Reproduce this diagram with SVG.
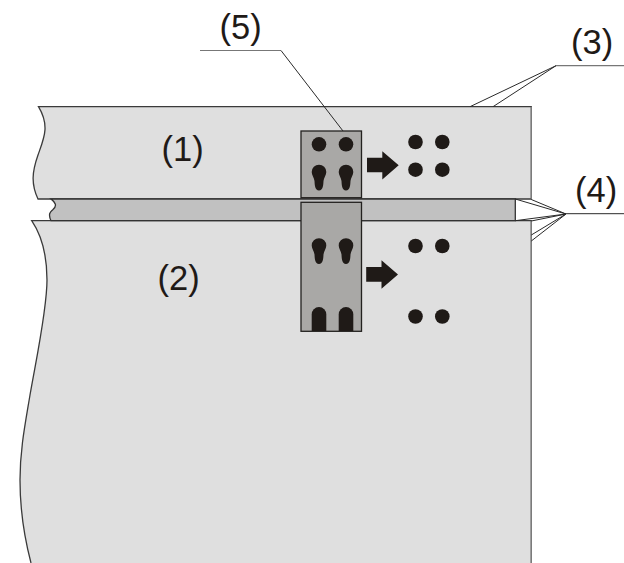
<svg xmlns="http://www.w3.org/2000/svg" width="624" height="563" viewBox="0 0 624 563">
<style>
.sheet{fill:#dfdfdf;stroke:#3a3a3a;stroke-width:1.3}
.edge{fill:none;stroke:#8a8a8a;stroke-width:1}
.band{fill:#c1c1c1;stroke:#333;stroke-width:1.3}
.plate{fill:#a9a8a6;stroke:#23211f;stroke-width:1.3}
.hole{fill:#1f1a17}
.lead{fill:none;stroke:#2a2a2a;stroke-width:1}
.rule{fill:none;stroke:#777;stroke-width:1.2}
.label{font-family:"Liberation Sans",Arial,sans-serif;font-size:34.500px;fill:#1f1a17}
</style>
<defs>
<circle id="dot" r="7.3" class="hole"/>
<path id="key" class="hole" d="M-7.3 0A7.3 7.3 0 1 1 7.3 0C7.3 3 4.8 6 4.5 9C4.3 13 4 18.500 0 18.500C-4 18.500 -4.300 13 -4.500 9C-4.800 6 -7.300 3 -7.300 0Z"/>
<path id="slot" class="hole" d="M-7.300 24V7.300A7.300 7.300 0 0 1 7.300 7.300V24Z"/>
</defs>
<g id="sheet-1">
<path class="sheet" d="M38.500 106.700H531.300V199H38C31 184 32 172 38 155C44 138 50 126 38.500 106.700Z"/>
<path d="M531.300 106.700V199" class="edge"/>
<text class="label" x="161.500" y="160.500">(1)</text>
</g>
<g id="sheet-2">
<path class="sheet" d="M531.300 563V220.700H31.700C42 236 47 258 47 280C47 310 36 360 30 395C25 425 20 450 20 480C20 510 25 540 31 563" />
<path d="M531.300 220.700V563" class="edge"/>
<text class="label" x="157.500" y="289.500">(2)</text>
</g>
<g id="band">
<path class="band" d="M51 199H515.300V220.700H51C48 214 50 212 53 209.500C57 206 56 203 51 199Z"/>
</g>
<g id="plate-upper">
<rect class="plate" x="301" y="131" width="60.500" height="66.700"/>
<use href="#dot" x="319" y="144.300"/>
<use href="#dot" x="346" y="144.300"/>
<use href="#key" x="319" y="172"/>
<use href="#key" x="346" y="172"/>
</g>
<g id="plate-lower">
<rect class="plate" x="301" y="202.300" width="60.500" height="129"/>
<use href="#key" x="319" y="245.500"/>
<use href="#key" x="346" y="245.500"/>
<use href="#slot" x="319" y="307"/>
<use href="#slot" x="346" y="307"/>
</g>
<g id="result-upper">
<path class="hole" d="M367 157.700H382.300V151.300L398.700 165.300L382.300 179.500V172.300H367Z"/>
<use href="#dot" x="415.500" y="142"/>
<use href="#dot" x="442.300" y="142"/>
<use href="#dot" x="415.500" y="169.700"/>
<use href="#dot" x="442.300" y="169.700"/>
</g>
<g id="result-lower">
<path class="hole" d="M366.200 267H381.500V260.300L398 274.500L381.500 288.700V281.700H366.200Z"/>
<use href="#dot" x="415.500" y="246"/>
<use href="#dot" x="442.300" y="246"/>
<use href="#dot" x="415.500" y="316.500"/>
<use href="#dot" x="442.300" y="316.500"/>
</g>
<g id="connectors">
<path class="rule" d="M200 50.500H281"/>
<path class="lead" d="M281 50.500L343 131"/>
<path class="lead" d="M470 106.700L556 65.700M493 106.700L556 65.700"/>
<path class="rule" d="M556 65.700H624"/>
<path class="lead" d="M515.300 199L566 214M531.300 199.500L566 214M515.300 220.700L566 214M531.300 221L566 214M531.300 241L566 214M531.300 235L566 214M566 213.700H624"/>
</g>
<g id="labels">
<text class="label" x="219.500" y="39">(5)</text>
<text class="label" x="571" y="54">(3)</text>
<text class="label" x="575" y="202">(4)</text>
</g>
</svg>
